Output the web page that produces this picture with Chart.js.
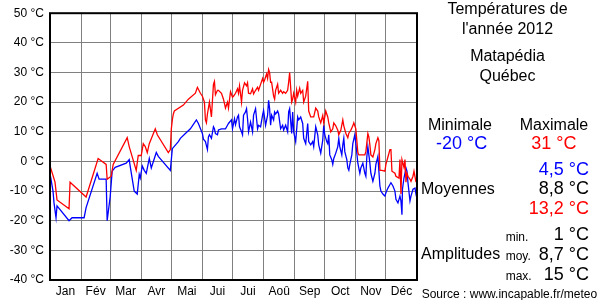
<!DOCTYPE html>
<html><head><meta charset="utf-8">
<script src="https://cdn.jsdelivr.net/npm/chart.js@4"></script>
<style>
html,body{margin:0;padding:0;background:#fff;}
#wrap{position:relative;width:600px;height:300px;font-family:"Liberation Sans",Arial,sans-serif;color:#000;overflow:hidden;}
canvas{position:absolute;left:0;top:0;}
.t{position:absolute;white-space:nowrap;}
</style></head><body>
<div id="wrap"><canvas id="c" width="600" height="300"></canvas>
<div class="t" style="left:437px;width:141px;text-align:center;top:0.5px;font-size:16px;line-height:16px">Températures de</div>
<div class="t" style="left:437px;width:141px;text-align:center;top:20.8px;font-size:16px;line-height:16px">l'année 2012</div>
<div class="t" style="left:437px;width:141px;text-align:center;top:47.8px;font-size:16px;line-height:16px">Matapédia</div>
<div class="t" style="left:437px;width:141px;text-align:center;top:67.8px;font-size:16px;line-height:16px">Québec</div>
<div class="t" style="left:420px;width:80px;text-align:center;top:116.5px;font-size:16px;line-height:16px">Minimale</div>
<div class="t" style="left:514px;width:80px;text-align:center;top:116.5px;font-size:16px;line-height:16px">Maximale</div>
<div class="t" style="left:421.7px;width:80px;text-align:center;top:134px;font-size:18px;line-height:18px;color:#0000ff">-20 °C</div>
<div class="t" style="left:513.8px;width:80px;text-align:center;top:134px;font-size:18px;line-height:18px;color:#ff0000">31 °C</div>
<div class="t" style="right:11px;top:159.8px;font-size:18px;line-height:18px;color:#0000ff">4,5 °C</div>
<div class="t" style="left:421px;top:181px;font-size:16px;line-height:16px">Moyennes</div>
<div class="t" style="right:11px;top:179.3px;font-size:18px;line-height:18px">8,8 °C</div>
<div class="t" style="right:11px;top:198.8px;font-size:18px;line-height:18px;color:#ff0000">13,2 °C</div>
<div class="t" style="left:505.7px;top:230.5px;font-size:12px;line-height:12px">min.</div>
<div class="t" style="right:11px;top:224.8px;font-size:18px;line-height:18px">1 °C</div>
<div class="t" style="left:421px;top:246px;font-size:16px;line-height:16px">Amplitudes</div>
<div class="t" style="left:505.7px;top:250px;font-size:12px;line-height:12px">moy.</div>
<div class="t" style="right:11px;top:244.8px;font-size:18px;line-height:18px">8,7 °C</div>
<div class="t" style="left:505.7px;top:270px;font-size:12px;line-height:12px">max.</div>
<div class="t" style="right:11px;top:264.8px;font-size:18px;line-height:18px">15 °C</div>
<div class="t" style="left:421.7px;top:288px;font-size:12px;line-height:12px">Source : www.incapable.fr/meteo</div>
</div>
<script>
const monthLabels = ["Jan","Fév","Mar","Avr","Mai","Jui","Jui","Aoû","Sep","Oct","Nov","Déc"];
const monthStarts = [0,31,60,91,121,152,182,213,244,274,305,335,366];
const yMin = -40, yMax = 50, yStep = 10;

const maxDays = [0.5,5,7,19,20,36,48,56,57,61,63,77,79,86,88,91,93,95,97,99,105,107,118,120,121,122,123,124,133,138,145,147,150,152,153,154,155,156,157,159,161,163,164,165,167,168,171,173,175,177,178,180,182,183,185,187,188,189,191,192,194,196,197,198,200,202,203,205,207,208,210,212,213,214,216,217,218,219,220,221,223,224,225,227,228,230,232,233,235,237,238,239,241,242,243,245,246,247,249,250,252,253,255,257,258,260,262,263,265,267,268,270,272,273,275,277,278,280,282,283,285,287,288,290,292,293,295,297,298,300,302,303,305,307,308,314,315,317,318,319,320,322,324,325,327,328,329,331,334,335,337,339,340,341,344,345,348,349,350,351,353,354,355,356,357,359,360,362,363,365];
const maxTemps = [-2,-7,-13,-16,-7,-12,1,-1,-6,-5,-1,8,5,-3,2,2,6,5,3,6,11,9,3,4,11,14,16,17,19,21,23,25,23,22,21,20,14,13,16,20,15,26,27,22.5,24,24,23,21,18,20,18,23.5,21.7,22,23,24.5,23,25.5,20,24,26.5,25.5,26.5,23,22.8,24.5,22.8,24,25,24,26,28,26.7,27.5,29.5,28,31,30,26.7,26.7,22,21,24,26,23,24,23,23.5,23,24,26.7,30,20,21,23,20,24,22,24.7,23,24,20,22,27,17,15,15,15,18,17,15,13,15.5,13,17,15,13,10,11,13,12,10.5,9,10.5,14,12,9.5,8,9.5,10.5,12,13,11,3,2.2,2.2,3.3,9.4,8.3,5.6,2.2,1.5,4,6,8,7,-3,-3,-3.3,-1,1.5,4,4,-3.3,-4,-5,-5.6,0.6,-11,0.6,-2,0.6,-7,-4,-5,-6,-6.7,-5,-3.3,-7];

const minDays = [0.5,3,4,6,7,19,22,34,36,47,49,56,57,60,62,65,76,79,80,84,87,89,90,92,94,96,99,101,106,108,120,122,128,130,135,140,146,148,152,153,155,157,158,159,161,163,164,165,167,168,171,175,177,178,181,182,184,185,187,188,189,191,192,193,195,196,197,198,200,202,203,205,207,208,210,212,213,215,217,218,219,220,221,223,224,225,227,228,230,232,233,235,237,238,239,241,242,243,245,247,248,250,252,253,255,257,258,260,262,263,265,267,268,270,272,273,274,276,277,278,279,281,282,283,285,287,288,289,291,292,293,294,296,297,298,299,301,302,304,305,307,309,310,312,314,315,316,317,319,320,322,324,325,327,329,330,332,334,335,337,339,340,342,344,345,347,349,350,351,351.5,353,354,355,356,357,359,360,362,364,365,366];
const minTemps = [-5,-10,-14,-19,-15,-20,-19,-19,-15.6,-4,-6,-6,-20,-12,-3.3,-2,-0.6,0.6,-1.7,-10,-11,-4.4,-5.6,-1.5,-3,-4,1,-2.2,3,1.7,-3,4.3,6.7,7.8,9.4,11,14,12.8,9.4,7.5,6.7,4,8.3,9,7.8,11.7,11,9.4,9,10.6,11,11,12.2,12.8,14,11,14.4,12.4,15,15.6,11.7,10,9,15.6,16.7,17.8,14.4,10,13.3,10,15.6,17.8,11,12.2,11.7,15.6,17.2,12.2,15.6,20.6,17.8,12.2,15.6,14,16.7,16,17,16,11,12.2,10.6,12.2,10,16.7,17.8,9.4,16.7,10,6.7,15,14,15,12.8,7.8,6,12.8,6.7,5.6,6.7,5,11.7,9,5.6,2.8,7.2,12.2,9,6.7,6,9,2.2,0.6,-1,1,2.8,5,7.8,5,2.2,5.6,7.8,3.3,0.6,-2.2,-3,-1,2.2,6,9,6,-0.6,-4,-2.2,-0.6,-4,-5,1.7,5,-0.6,-4,-6.7,-4,-1,1.7,-8.3,-10,-11,-11.7,-10.6,-9,-7.8,-7.2,-8.3,-10,-12.8,-14,-11.7,-13.3,-18,-9.4,-5.6,-4,-2.2,-3.3,-7.2,-13.3,-11.7,-9.4,-9,-11,-10];

Chart.defaults.font.family = "'Liberation Sans', Arial, sans-serif";
Chart.defaults.color = '#000';

const monthCenters = monthLabels.map((_, i) => (monthStarts[i] + monthStarts[i + 1]) / 2);

const framePlugin = {
  id: 'frame',
  afterDraw(chart) {
    const a = chart.chartArea, ctx = chart.ctx;
    ctx.save();
    ctx.strokeStyle = '#000';
    ctx.lineWidth = 2;
    ctx.strokeRect(a.left, a.top, a.right - a.left, a.bottom - a.top);
    ctx.restore();
  }
};

new Chart(document.getElementById('c'), {
  type: 'line',
  data: {
    datasets: [
      { label: 'Maximale', data: maxDays.map((d, i) => ({ x: d, y: maxTemps[i] })), borderColor: '#ff0000', borderWidth: 1.3, pointRadius: 0, tension: 0, fill: false },
      { label: 'Minimale', data: minDays.map((d, i) => ({ x: d, y: minTemps[i] })), borderColor: '#0000ff', borderWidth: 1.3, pointRadius: 0, tension: 0, fill: false }
    ]
  },
  options: {
    responsive: false,
    animation: false,
    devicePixelRatio: 1,
    layout: { padding: { top: 10, right: 183, left: 0, bottom: 0 } },
    plugins: { legend: { display: false }, tooltip: { enabled: false } },
    scales: {
      x: {
        type: 'linear', min: 0, max: 366, position: 'bottom',
        grid: { color: '#808080', lineWidth: 1, drawTicks: false },
        border: { display: false },
        ticks: { display: false },
        afterBuildTicks: s => { s.ticks = monthStarts.map(v => ({ value: v })); },
        afterFit: s => { s.height = 0; }
      },
      xl: {
        type: 'linear', min: 0, max: 366, position: 'bottom',
        grid: { display: false, drawTicks: false },
        border: { display: false },
        ticks: { autoSkip: false, maxRotation: 0, padding: 4, font: { size: 12 }, color: '#000',
          callback: (v, i) => monthLabels[i] },
        afterBuildTicks: s => { s.ticks = monthCenters.map(v => ({ value: v })); },
        afterFit: s => { s.height = 20; }
      },
      y: {
        type: 'linear', min: yMin, max: yMax,
        grid: { color: '#808080', lineWidth: 1, drawTicks: false },
        border: { display: false },
        ticks: { stepSize: yStep, padding: 6, font: { size: 12 }, color: '#000', callback: v => v + ' °C' },
        afterFit: s => { s.width = 50; }
      }
    }
  },
  plugins: [framePlugin]
});
</script>
</body></html>
